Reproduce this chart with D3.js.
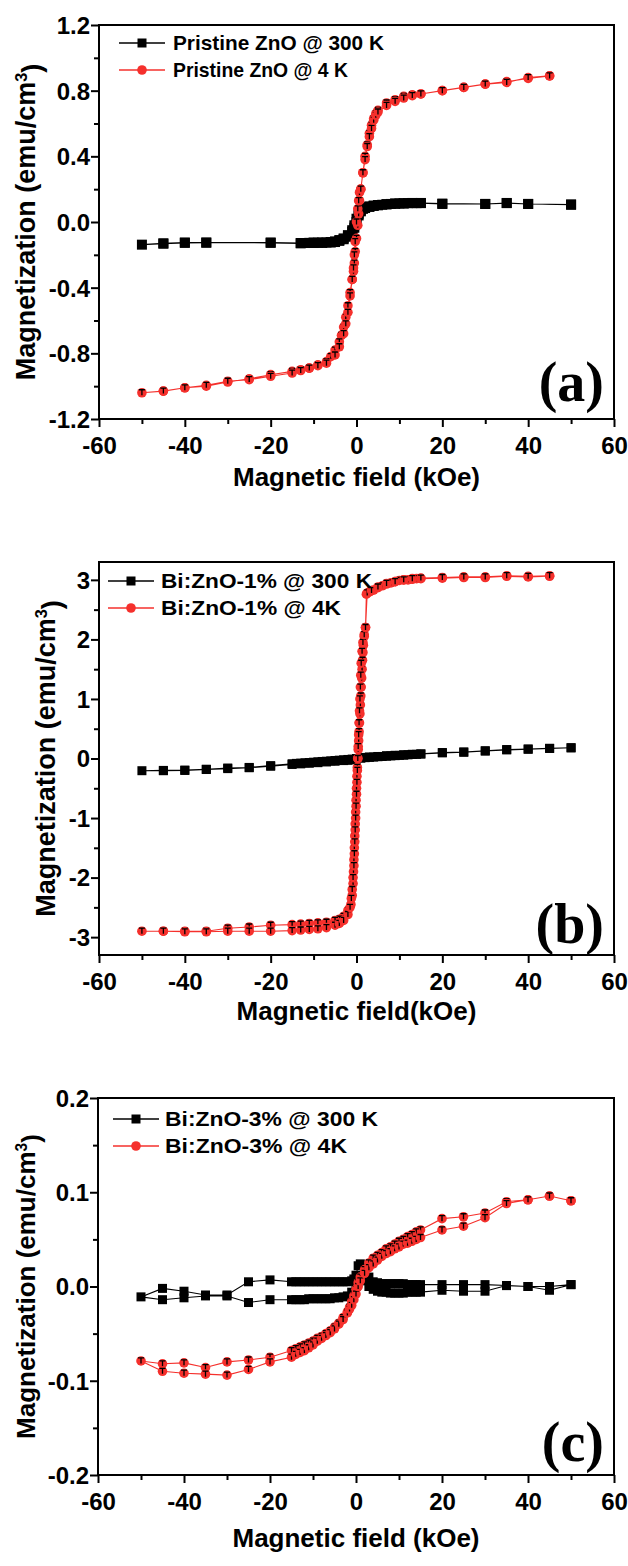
<!DOCTYPE html>
<html>
<head>
<meta charset="utf-8">
<script src="https://cdn.jsdelivr.net/npm/d3@7"></script>
<style>
body{margin:0;background:#fff;}
text{font-family:"Liberation Sans",Arial,sans-serif;font-weight:bold;fill:#000;}
.tag{font-family:"Liberation Serif","Times New Roman",serif;}
</style>
</head>
<body>
<svg id="chart" width="628" height="1566"></svg>
<script>
// ---- data: [field kOe, magnetization emu/cm3], loop order (down branch then up branch)
var xTicks = [-60,-40,-20,0,20,40,60];
var xMinor = [-50,-30,-10,10,30,50];

// (a) pristine ZnO
var a300K = [[50,0.105],[40,0.11],[35,0.115],[30,0.11],[20,0.11],[15,0.115],[14,0.115],[13,0.115],[12,0.115],[11,0.113],[10,0.113],[9,0.112],[8,0.11],[7,0.108],[6,0.105],[5,0.102],[4,0.098],[3,0.092],[2,0.085],[1,0.07],[0.5,0.05],[0,0.02],[-0.5,-0.02],[-1,-0.05],[-2,-0.08],[-3,-0.1],[-4,-0.11],[-5,-0.118],[-6,-0.122],[-7,-0.125],[-8,-0.125],[-9,-0.126],[-10,-0.125],[-11,-0.127],[-12,-0.128],[-13,-0.128],[-20,-0.125],[-35,-0.125],[-40,-0.125],[-45,-0.13],[-50,-0.138],
  [-45,-0.132],[-40,-0.127],[-35,-0.126],[-20,-0.127],[-13,-0.13],[-10,-0.128],[-8,-0.127],[-6,-0.125],[-5,-0.122],[-4,-0.115],[-3,-0.105],[-2,-0.09],[-1,-0.06],[-0.5,-0.035],[0,0.0],[0.5,0.04],[1,0.065],[1.5,0.08],[2,0.088],[3,0.095],[4,0.1],[5,0.103],[7,0.108],[9,0.112],[11,0.114],[13,0.116],[15,0.116],[20,0.112],[30,0.11],[35,0.116],[40,0.11],[50,0.107]];
var a4K = [[45,0.89],[40,0.875],[35,0.855],[30,0.84],[25,0.82],[20,0.8],[15,0.78],[13,0.775],[11,0.765],[9,0.745],[7,0.725],[5,0.68],[4.5,0.66],[4,0.63],[3.5,0.59],[3,0.54],[2.5,0.47],[2,0.4],[1.5,0.3],[1,0.2],[0.7,0.13],[0.5,0.05],[0.3,-0.02],[0,-0.1],[-0.3,-0.18],[-0.5,-0.25],[-0.7,-0.3],[-1,-0.35],[-1.5,-0.43],[-2,-0.51],[-2.5,-0.58],[-3,-0.64],[-3.5,-0.69],[-4,-0.73],[-5,-0.78],[-6,-0.82],[-7,-0.85],[-9,-0.87],[-11,-0.89],[-13,-0.9],[-15,-0.91],[-20,-0.93],[-25,-0.955],[-30,-0.975],[-35,-1.0],[-40,-1.01],[-45,-1.03],[-50,-1.04],
  [-45,-1.03],[-40,-1.01],[-35,-0.995],[-30,-0.97],[-25,-0.96],[-20,-0.94],[-15,-0.92],[-13,-0.905],[-11,-0.89],[-9,-0.875],[-7,-0.86],[-5,-0.81],[-4,-0.76],[-3,-0.68],[-2.5,-0.62],[-2,-0.55],[-1.5,-0.45],[-1,-0.35],[-0.7,-0.28],[-0.5,-0.2],[-0.3,-0.12],[0,0.0],[0.3,0.08],[0.5,0.13],[0.7,0.18],[1,0.2],[1.5,0.3],[2,0.38],[2.5,0.46],[3,0.52],[3.5,0.57],[4,0.62],[4.5,0.65],[5,0.67],[7,0.71],[9,0.735],[11,0.755],[13,0.77],[15,0.78],[20,0.8],[25,0.82],[30,0.84],[35,0.85],[40,0.88],[45,0.89]];
var aYTicks = [-1.2,-0.8,-0.4,0.0,0.4,0.8,1.2];
var aYMinor = [-1.0,-0.6,-0.2,0.2,0.6,1.0];

// (b) Bi:ZnO-1%
var b300K = [[50,0.18],[45,0.17],[40,0.155],[35,0.145],[30,0.125],[25,0.105],[20,0.095],[15,0.075],[14,0.07],[13,0.068],[12,0.062],[11,0.058],[10,0.052],[9,0.048],[8,0.044],[7,0.04],[6,0.034],[5,0.03],[4,0.024],[3,0.02],[2,0.014],[1,0.008],[0,0.0],[-1,-0.01],[-2,-0.016],[-3,-0.022],[-4,-0.028],[-5,-0.034],[-6,-0.04],[-7,-0.046],[-8,-0.05],[-9,-0.056],[-10,-0.062],[-11,-0.068],[-12,-0.072],[-13,-0.078],[-14,-0.082],[-15,-0.088],[-20,-0.12],[-25,-0.15],[-30,-0.16],[-35,-0.18],[-40,-0.195],[-45,-0.2],[-50,-0.205],
  [-45,-0.205],[-40,-0.2],[-35,-0.185],[-30,-0.17],[-25,-0.155],[-20,-0.13],[-15,-0.1],[-13,-0.09],[-11,-0.08],[-9,-0.07],[-7,-0.058],[-5,-0.046],[-3,-0.035],[-2,-0.03],[-1,-0.022],[0,-0.01],[1,0.01],[2,0.018],[3,0.024],[5,0.034],[7,0.046],[9,0.054],[11,0.062],[13,0.07],[15,0.078],[20,0.1],[25,0.11],[30,0.13],[35,0.15],[40,0.16],[45,0.17],[50,0.18]];
var b4K = [[45,3.06],[40,3.05],[35,3.06],[30,3.04],[25,3.04],[20,3.03],[15,3.02],[14,3.02],[13,3.01],[12,3.0],[11,3.0],[10,2.99],[9,2.97],[8,2.95],[7,2.93],[6,2.9],[5,2.87],[4,2.83],[3,2.8],[2.3,2.76],[2.1,2.2],[1.8,2.05],[1.6,1.9],[1.5,1.78],[1.4,1.65],[1.3,1.5],[1.2,1.35],[1.1,1.2],[1.0,1.05],[0.9,0.9],[0.8,0.75],[0.7,0.6],[0.6,0.45],[0.5,0.3],[0.4,0.15],[0.3,0.0],[0.2,-0.15],[0.1,-0.3],[0.0,-0.5],[-0.1,-0.7],[-0.2,-0.9],[-0.3,-1.1],[-0.4,-1.3],[-0.5,-1.5],[-0.6,-1.7],[-0.7,-1.9],[-0.8,-2.1],[-1.0,-2.3],[-1.3,-2.45],[-2,-2.55],[-3,-2.65],[-4,-2.7],[-5,-2.72],[-7,-2.75],[-9,-2.76],[-11,-2.77],[-13,-2.78],[-15,-2.79],[-20,-2.8],[-25,-2.83],[-30,-2.85],[-35,-2.9],[-40,-2.9],[-45,-2.9],[-50,-2.9],
  [-45,-2.9],[-40,-2.91],[-35,-2.91],[-30,-2.9],[-25,-2.9],[-20,-2.9],[-15,-2.89],[-13,-2.88],[-11,-2.87],[-9,-2.86],[-7,-2.84],[-5,-2.8],[-4,-2.77],[-3,-2.72],[-2,-2.62],[-1.5,-2.5],[-1.2,-2.35],[-1.0,-2.2],[-0.8,-2.0],[-0.6,-1.8],[-0.5,-1.6],[-0.4,-1.4],[-0.3,-1.2],[-0.2,-1.0],[-0.1,-0.8],[0,-0.6],[0.1,-0.4],[0.2,-0.2],[0.3,0.0],[0.4,0.2],[0.5,0.4],[0.6,0.6],[0.7,0.8],[0.8,1.0],[0.9,1.2],[1.0,1.4],[1.1,1.6],[1.3,1.8],[1.5,1.95],[1.8,2.08],[2.1,2.2],[2.5,2.78],[3.5,2.82],[5,2.88],[7,2.94],[9,2.97],[11,3.0],[13,3.02],[15,3.03],[20,3.04],[25,3.05],[30,3.05],[35,3.07],[40,3.06],[45,3.07]];
var bYTicks = [-3,-2,-1,0,1,2,3];
var bYMinor = [-2.5,-1.5,-0.5,0.5,1.5,2.5];

// (c) Bi:ZnO-3%
var c300K = [[50,0.002],[45,0.0],[40,0.0],[35,0.001],[30,0.002],[25,0.002],[20,0.002],[15,0.002],[14,0.002],[13,0.002],[12,0.002],[11,0.003],[10,0.003],[9,0.003],[8,0.003],[7,0.003],[6,0.003],[5,0.004],[4,0.005],[3,0.01],[2,0.018],[1,0.024],[0.5,0.022],[0,0.012],[-0.5,0.008],[-1,0.006],[-2,0.005],[-3,0.005],[-4,0.005],[-5,0.005],[-6,0.005],[-7,0.005],[-8,0.005],[-9,0.005],[-10,0.005],[-11,0.005],[-12,0.005],[-13,0.005],[-14,0.005],[-15,0.005],[-20,0.007],[-25,0.005],[-30,-0.009],[-35,-0.009],[-40,-0.005],[-45,-0.002],[-50,-0.011],
  [-45,-0.014],[-40,-0.012],[-35,-0.01],[-30,-0.01],[-25,-0.017],[-20,-0.014],[-15,-0.014],[-14,-0.014],[-13,-0.014],[-12,-0.014],[-11,-0.013],[-10,-0.013],[-9,-0.013],[-8,-0.013],[-7,-0.013],[-6,-0.013],[-5,-0.012],[-4,-0.012],[-3,-0.011],[-2,-0.01],[-1,-0.006],[0,0.0],[0.5,0.006],[1,0.01],[2,0.006],[3,0.0],[4,-0.003],[5,-0.005],[6,-0.006],[7,-0.006],[8,-0.007],[9,-0.007],[10,-0.007],[11,-0.007],[12,-0.006],[13,-0.006],[14,-0.006],[15,-0.006],[20,-0.004],[25,-0.005],[30,-0.005],[35,0.001],[40,0.0],[45,-0.004],[50,0.002]];
var c4K = [[50,0.091],[45,0.096],[40,0.092],[35,0.09],[30,0.078],[25,0.074],[20,0.072],[15,0.06],[14,0.058],[13,0.055],[12,0.053],[11,0.05],[10,0.048],[9,0.045],[8,0.042],[7,0.04],[6,0.036],[5,0.033],[4,0.03],[3,0.025],[2,0.018],[1,0.01],[0.5,0.004],[0,-0.003],[-0.5,-0.01],[-1,-0.016],[-1.5,-0.022],[-2,-0.027],[-3,-0.033],[-4,-0.039],[-5,-0.043],[-6,-0.047],[-7,-0.05],[-8,-0.053],[-9,-0.055],[-10,-0.058],[-11,-0.06],[-12,-0.062],[-13,-0.064],[-14,-0.066],[-15,-0.068],[-20,-0.075],[-25,-0.078],[-30,-0.08],[-35,-0.086],[-40,-0.081],[-45,-0.082],[-50,-0.079],
  [-45,-0.09],[-40,-0.092],[-35,-0.093],[-30,-0.094],[-25,-0.088],[-20,-0.08],[-15,-0.075],[-14,-0.072],[-13,-0.07],[-12,-0.068],[-11,-0.065],[-10,-0.062],[-9,-0.058],[-8,-0.055],[-7,-0.052],[-6,-0.049],[-5,-0.045],[-4,-0.04],[-3,-0.035],[-2,-0.028],[-1.5,-0.024],[-1,-0.02],[-0.5,-0.014],[0,-0.008],[0.5,0.0],[1,0.006],[2,0.014],[3,0.02],[4,0.024],[5,0.028],[6,0.032],[7,0.035],[8,0.037],[9,0.04],[10,0.042],[11,0.045],[12,0.046],[13,0.048],[14,0.05],[15,0.052],[20,0.06],[25,0.064],[30,0.073],[35,0.088],[40,0.092],[45,0.096],[50,0.091]];
var cYTicks = [-0.2,-0.1,0.0,0.1,0.2];
var cYMinor = [-0.15,-0.05,0.05,0.15];

var legendA = ["Pristine ZnO @ 300 K","Pristine ZnO @ 4 K"];
var legendB = ["Bi:ZnO-1% @ 300 K","Bi:ZnO-1% @ 4K"];
var legendC = ["Bi:ZnO-3% @ 300 K","Bi:ZnO-3% @ 4K"];

var RED = "#f5302c";

// plain hyphen for negatives, like the original plot
function hy(f){ return function(v){ return f(v).replace("\u2212","-"); }; }

var panels = [
  {top:25, bottom:419, left:99, right:614, ydom:[-1.2,1.2], yt:aYTicks, ym:aYMinor, fmt:hy(d3.format(".1f")),
   black:a300K, red:a4K, sq:10, leg:legendA, lx:119, ly:43, lt:173, lw:[211,175],
   yTitleX:26, yFont:27, xTitle:"Magnetic field (kOe)", xTitleY:477, tag:"(a)", tagY:401},
  {top:562, bottom:955, left:99, right:614, ydom:[-3.3,3.3], yt:bYTicks, ym:bYMinor, fmt:hy(d3.format("d")),
   black:b300K, red:b4K, sq:9, leg:legendB, lx:108, ly:581, lt:161, lw:[211,180],
   yTitleX:46, yFont:27, xTitle:"Magnetic field(kOe)", xTitleY:1011, tag:"(b)", tagY:943},
  {top:1098, bottom:1475, left:98, right:614, ydom:[-0.2,0.2], yt:cYTicks, ym:cYMinor, fmt:hy(d3.format(".1f")),
   black:c300K, red:c4K, sq:9, leg:legendC, lx:113, ly:1119, lt:165, lw:[213,182],
   yTitleX:26, yFont:26, xTitle:"Magnetic field (kOe)", xTitleY:1538, tag:"(c)", tagY:1461}
];

var svg = d3.select("#chart");

function drawPanel(p){
  var x = d3.scaleLinear().domain([-60,60]).range([p.left,p.right]);
  var y = d3.scaleLinear().domain(p.ydom).range([p.bottom,p.top]);
  var g = svg.append("g");

  var line = d3.line().x(function(d){return x(d[0]);}).y(function(d){return y(d[1]);});

  // curves
  g.append("path").datum(p.black).attr("d",line)
    .attr("fill","none").attr("stroke","#000").attr("stroke-width",1.1);
  g.append("path").datum(p.red).attr("d",line)
    .attr("fill","none").attr("stroke",RED).attr("stroke-width",1.1);

  // black squares
  g.selectAll(".sq").data(p.black).enter().append("rect")
    .attr("x",function(d){return x(d[0])-p.sq/2;})
    .attr("y",function(d){return y(d[1])-p.sq/2;})
    .attr("width",p.sq).attr("height",p.sq).attr("fill","#000");

  // red markers with black error-bar "T"
  var rm = g.selectAll(".rm").data(p.red).enter().append("g")
    .attr("transform",function(d){return "translate("+x(d[0])+","+y(d[1])+")";});
  rm.append("circle").attr("r",4.8).attr("fill",RED);
  rm.append("path").attr("d","M-3,-3H3M0,-3V2.5").attr("stroke","#000").attr("stroke-width",1.3).attr("fill","none");

  // frame
  g.append("rect").attr("x",p.left).attr("y",p.top)
    .attr("width",p.right-p.left).attr("height",p.bottom-p.top)
    .attr("fill","none").attr("stroke","#000").attr("stroke-width",2);

  // axes
  var xa = g.append("g").attr("transform","translate(0,"+p.bottom+")")
    .call(d3.axisBottom(x).tickValues(xTicks).tickSize(8).tickFormat(hy(d3.format("d"))));
  g.append("g").attr("transform","translate(0,"+p.bottom+")")
    .call(d3.axisBottom(x).tickValues(xMinor).tickSize(5).tickFormat(""));
  var ya = g.append("g").attr("transform","translate("+p.left+",0)")
    .call(d3.axisLeft(y).tickValues(p.yt).tickSize(8).tickFormat(p.fmt));
  g.append("g").attr("transform","translate("+p.left+",0)")
    .call(d3.axisLeft(y).tickValues(p.ym).tickSize(5).tickFormat(""));
  g.selectAll(".domain").remove();
  g.selectAll(".tick line").attr("stroke","#000").attr("stroke-width",2);
  xa.selectAll("text").attr("y",27).attr("dy","0.35em")
    .style("font-size","24px").style("font-family","Liberation Sans, Arial, sans-serif").style("font-weight","bold");
  ya.selectAll("text").attr("x",-9).attr("dy","0.35em")
    .style("font-size","24px").style("font-family","Liberation Sans, Arial, sans-serif").style("font-weight","bold");

  // axis titles
  g.append("text").attr("x",(p.left+p.right)/2).attr("y",p.xTitleY).attr("dy","0.35em")
    .attr("text-anchor","middle").style("font-size","26px").text(p.xTitle);
  var yt = g.append("text")
    .attr("transform","translate("+p.yTitleX+","+((p.top+p.bottom)/2)+") rotate(-90)")
    .attr("dy","0.35em").attr("text-anchor","middle").style("font-size",p.yFont+"px");
  yt.append("tspan").text("Magnetization (emu/cm");
  yt.append("tspan").attr("dy","-0.5em").style("font-size",(p.yFont*0.6)+"px").text("3");
  yt.append("tspan").attr("dy","0.5em").text(")");

  // legend
  var lg = g.append("g");
  [0,1].forEach(function(i){
    var ly = p.ly + i*27;
    var col = i==0 ? "#000" : RED;
    lg.append("line").attr("x1",p.lx).attr("x2",p.lx+46).attr("y1",ly).attr("y2",ly)
      .attr("stroke",col).attr("stroke-width",1.3);
    if(i==0){
      lg.append("rect").attr("x",p.lx+23-4.5).attr("y",ly-4.5).attr("width",9).attr("height",9).attr("fill","#000");
    } else {
      lg.append("circle").attr("cx",p.lx+23).attr("cy",ly).attr("r",4.8).attr("fill",RED);
    }
    lg.append("text").attr("x",p.lt).attr("y",ly).attr("dy","0.35em")
      .attr("textLength",p.lw[i]).attr("lengthAdjust","spacingAndGlyphs")
      .style("font-size","21px").text(p.leg[i]);
  });

  // panel tag
  g.append("text").attr("class","tag").attr("x",604).attr("y",p.tagY)
    .attr("text-anchor","end").style("font-size","56px").text(p.tag);
}

panels.forEach(drawPanel);
</script>
</body>
</html>
